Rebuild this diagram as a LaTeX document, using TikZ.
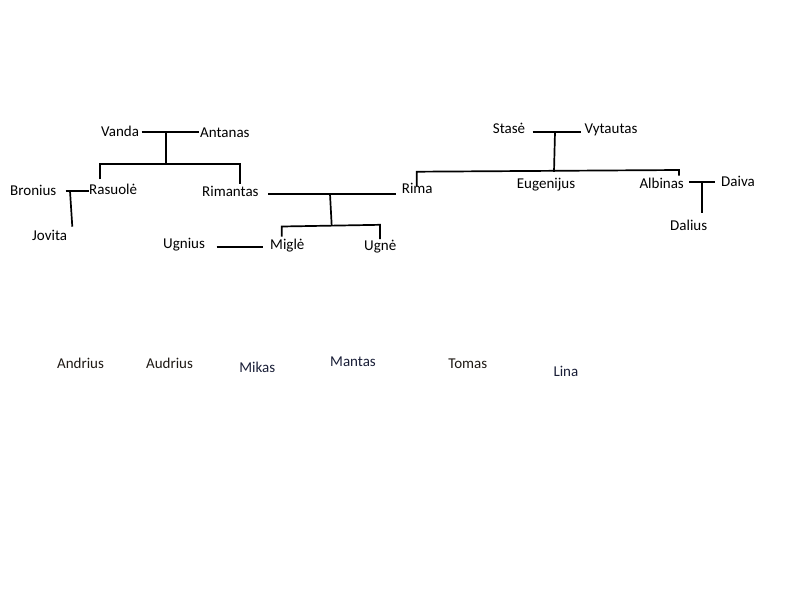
\documentclass[tikz,border=0pt]{standalone}
\usepackage{fontspec}
\setmainfont{Carlito}
\definecolor{inkA}{RGB}{25,30,55}
\definecolor{inkB}{RGB}{30,25,20}
\begin{document}
\begin{tikzpicture}[x=1pt,y=-1pt,
  person/.style={anchor=base west,inner sep=0pt,font=\fontsize{15}{18}\selectfont},
  other/.style={anchor=base west,inner sep=0pt,font=\fontsize{15}{18}\selectfont},
  link/.style={line width=1.7pt,black}]
\useasboundingbox (0,0) rectangle (800,600);
% people
\node[person] (vanda) at (101,136.7) {Vanda};
\node[person] (antanas) at (200,137) {Antanas};
\node[person] (bronius) at (10,195.7) {Bronius};
\node[person] (rasuole) at (89,194) {Rasuolė};
\node[person] (jovita) at (32,240) {Jovita};
\node[person] (rimantas) at (202,196.7) {Rimantas};
\node[person] (ugnius) at (163,248) {Ugnius};
\node[person] (migle) at (270,249.3) {Miglė};
\node[person] (ugne) at (364,250) {Ugnė};
\node[person] (rima) at (401.7,193.3) {Rima};
\node[person] (stase) at (492.7,133.3) {Stasė};
\node[person] (vytautas) at (584.3,133) {Vytautas};
\node[person] (eugenijus) at (516.7,188.3) {Eugenijus};
\node[person] (albinas) at (639.3,188) {Albinas};
\node[person] (daiva) at (721,186.7) {Daiva};
\node[person] (dalius) at (670,230.7) {Dalius};
% unconnected names
\node[other,text=inkB] (andrius) at (56.9,368.7) {Andrius};
\node[other,text=inkB] (audrius) at (145.9,368.7) {Audrius};
\node[other,text=inkA] (mikas) at (239.2,372.3) {Mikas};
\node[other,text=inkA] (mantas) at (330,366.9) {Mantas};
\node[other,text=inkB] (tomas) at (448.1,368.7) {Tomas};
\node[other,text=inkA] (lina) at (553.3,376.6) {Lina};
% junction coordinates
\coordinate (va1) at (141.7,131.7); \coordinate (va2) at (199,131.7);
\coordinate (vaM) at (166,131.7); \coordinate (vaD) at (166,164.3);
\coordinate (vaL) at (100,164.3); \coordinate (vaR) at (240,164.3);
\coordinate (vaLd) at (100,179.3); \coordinate (vaRd) at (240,184);
\coordinate (br1) at (65.7,191); \coordinate (br2) at (89.3,191);
\coordinate (brM) at (70,191); \coordinate (brD) at (72.3,226.7);
\coordinate (ri1) at (268.3,194); \coordinate (ri2) at (396,194);
\coordinate (riM) at (330,194); \coordinate (riD) at (331.7,225.7);
\coordinate (riL) at (281.7,226.5); \coordinate (riR) at (380,224.8);
\coordinate (riLd) at (281.7,236.7); \coordinate (riRd) at (380,239);
\coordinate (ug1) at (216.7,246.7); \coordinate (ug2) at (263.3,246.7);
\coordinate (st1) at (532.7,131.7); \coordinate (st2) at (580.7,131.7);
\coordinate (stM) at (555,131.7); \coordinate (stD) at (554,171.8);
\coordinate (stL) at (416.7,171.7); \coordinate (stR) at (679,170);
\coordinate (stLd) at (416.7,186); \coordinate (stRd) at (679,175.5);
\coordinate (al1) at (689.3,182.3); \coordinate (al2) at (715,182.3);
\coordinate (alM) at (701.7,182.3); \coordinate (alD) at (701.7,213.3);
% connectors
\draw[link] (va1) -- (va2);
\draw[link] (vaM) -- (vaD);
\draw[link] (vaLd) -- (vaL) -- (vaR) -- (vaRd);
\draw[link] (br1) -- (br2);
\draw[link] (brM) -- (brD);
\draw[link] (ri1) -- (ri2);
\draw[link] (riM) -- (riD);
\draw[link] (riLd) -- (riL) -- (riR) -- (riRd);
\draw[link] (ug1) -- (ug2);
\draw[link] (st1) -- (st2);
\draw[link] (stM) -- (stD);
\draw[link] (stLd) -- (stL) -- (stR) -- (stRd);
\draw[link] (al1) -- (al2);
\draw[link] (alM) -- (alD);
\end{tikzpicture}
\end{document}
